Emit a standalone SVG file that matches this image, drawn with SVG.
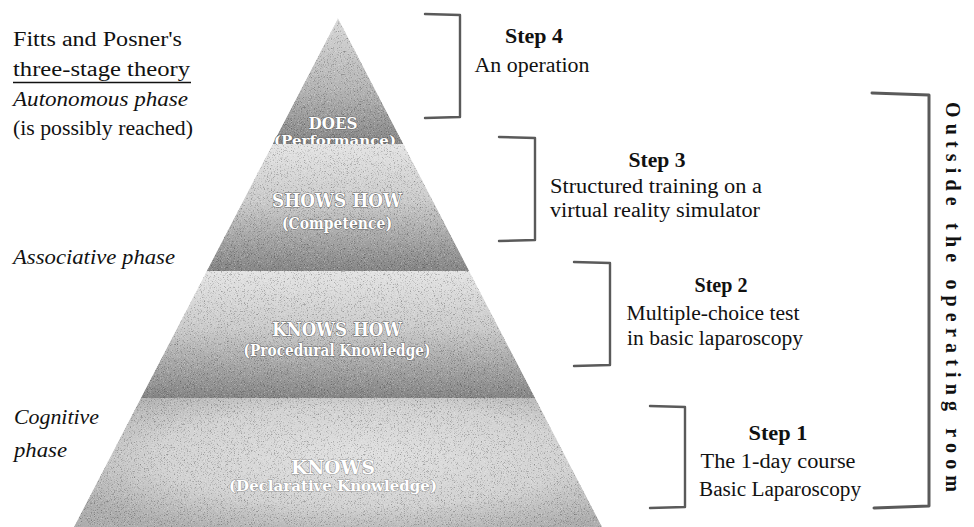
<svg xmlns="http://www.w3.org/2000/svg" width="974" height="527" viewBox="0 0 974 527">
<style>
  .t { font-family: "Liberation Serif", "DejaVu Serif", serif; font-size: 20px; fill: #111; }
  .it { font-style: italic; }
  .b { font-weight: bold; }
  .mid { text-anchor: middle; }
  .py { font-family: "DejaVu Serif", "Liberation Serif", serif; font-weight: bold; fill: #ffffff; stroke: #6a6a6a; stroke-width: 1.1; paint-order: stroke; text-anchor: middle; }
  .pyl { stroke: #9a9a9a; }
  .br { fill: none; stroke: #5a5a5a; stroke-width: 2.4; stroke-linejoin: round; stroke-linecap: round; }
  .band { filter: url(#grain); }
</style>
<defs>
  <linearGradient id="gBand" x1="0" y1="0" x2="0" y2="1">
    <stop offset="0" stop-color="#e4e4e4"/>
    <stop offset="0.45" stop-color="#cbcbcb"/>
    <stop offset="1" stop-color="#858585"/>
  </linearGradient>
  <linearGradient id="gTop" x1="0" y1="0" x2="0" y2="1">
    <stop offset="0" stop-color="#d8d8d8"/>
    <stop offset="0.55" stop-color="#b6b6b6"/>
    <stop offset="1" stop-color="#858585"/>
  </linearGradient>
  <radialGradient id="gBase" cx="0.55" cy="0.45" r="0.65">
    <stop offset="0" stop-color="#e0e0e0"/>
    <stop offset="0.6" stop-color="#d2d2d2"/>
    <stop offset="1" stop-color="#adadad"/>
  </radialGradient>
  <filter id="grain" x="0" y="0" width="100%" height="100%" color-interpolation-filters="sRGB">
    <feTurbulence type="fractalNoise" baseFrequency="1.3" numOctaves="1" seed="4" result="n"/>
    <feColorMatrix in="n" type="matrix" values="0 0 0 0 0  0 0 0 0 0  0 0 0 0 0  1.3 0 0 0 -0.72" result="dk"/>
    <feColorMatrix in="n" type="matrix" values="0 0 0 0 1  0 0 0 0 1  0 0 0 0 1  -1.3 0 0 0 0.58" result="lt"/>
    <feMerge result="m">
      <feMergeNode in="SourceGraphic"/>
      <feMergeNode in="dk"/>
      <feMergeNode in="lt"/>
    </feMerge>
    <feComposite in="m" in2="SourceGraphic" operator="in"/>
  </filter>
</defs>

<g id="phases">
  <text class="t" x="13" y="46" textLength="169" lengthAdjust="spacingAndGlyphs">Fitts and Posner's</text>
  <text class="t" x="13" y="76" textLength="177" lengthAdjust="spacingAndGlyphs">three-stage theory</text>
  <line x1="13" y1="82.5" x2="191" y2="82.5" stroke="#111" stroke-width="1.5"/>
  <text class="t it" x="13" y="106" textLength="175" lengthAdjust="spacingAndGlyphs">Autonomous phase</text>
  <text class="t" x="13" y="135" textLength="180" lengthAdjust="spacingAndGlyphs">(is possibly reached)</text>
  <text class="t it" x="13" y="264" textLength="162" lengthAdjust="spacingAndGlyphs">Associative phase</text>
  <text class="t it" x="14" y="424" textLength="85" lengthAdjust="spacingAndGlyphs">Cognitive</text>
  <text class="t it" x="14" y="457" textLength="53" lengthAdjust="spacingAndGlyphs">phase</text>
</g>

<g id="pyramid">
  <g id="does">
    <polygon class="band" points="338,18 403.4,144 272.6,144" fill="url(#gTop)"/>
    <text class="py" x="333" y="129" font-size="16" textLength="49" lengthAdjust="spacingAndGlyphs">DOES</text>
    <text class="py" x="335" y="145" font-size="12" textLength="122" lengthAdjust="spacingAndGlyphs">(Performance)</text>
  </g>
  <g id="shows-how">
    <polygon class="band" points="272.6,144 403.4,144 469.3,271 206.7,271" fill="url(#gBand)"/>
    <text class="py" x="337" y="207" font-size="19" textLength="130" lengthAdjust="spacingAndGlyphs">SHOWS HOW</text>
    <text class="py" x="337" y="229" font-size="16" textLength="110" lengthAdjust="spacingAndGlyphs">(Competence)</text>
  </g>
  <g id="knows-how">
    <polygon class="band" points="206.7,271 469.3,271 535.2,398 140.8,398" fill="url(#gBand)"/>
    <text class="py" x="337" y="336" font-size="19" textLength="130" lengthAdjust="spacingAndGlyphs">KNOWS HOW</text>
    <text class="py" x="337" y="356" font-size="16" textLength="187" lengthAdjust="spacingAndGlyphs">(Procedural Knowledge)</text>
  </g>
  <g id="knows">
    <polygon class="band" points="140.8,398 535.2,398 602.2,527 73.8,527" fill="url(#gBase)"/>
    <text class="py pyl" x="333" y="474" font-size="18" textLength="84" lengthAdjust="spacingAndGlyphs">KNOWS</text>
    <text class="py pyl" x="333" y="491" font-size="15" textLength="208" lengthAdjust="spacingAndGlyphs">(Declarative Knowledge)</text>
  </g>
</g>

<g id="connectors">
  <path class="br" d="M425,14 L460,15 L460,117 L425,118"/>
  <path class="br" d="M499,137 L535,138 L535,240 L499,241"/>
  <path class="br" d="M574,262 L610,263 L610,365 L574,366"/>
  <path class="br" d="M650,406 L685,407 L685,507 L650,508"/>
  <path class="br" d="M872,93 L929,95 L929,506 L874,508" style="stroke-width:3"/>
</g>

<g id="step4">
  <text class="t b mid" x="534" y="43" textLength="58" lengthAdjust="spacingAndGlyphs">Step 4</text>
  <text class="t mid" x="532" y="72" textLength="115" lengthAdjust="spacingAndGlyphs">An operation</text>
</g>
<g id="step3">
  <text class="t b mid" x="657" y="167" textLength="57" lengthAdjust="spacingAndGlyphs">Step 3</text>
  <text class="t mid" x="656" y="193" textLength="212" lengthAdjust="spacingAndGlyphs">Structured training on a</text>
  <text class="t mid" x="655" y="217" textLength="210" lengthAdjust="spacingAndGlyphs">virtual reality simulator</text>
</g>
<g id="step2">
  <text class="t b mid" x="721" y="292" textLength="53" lengthAdjust="spacingAndGlyphs">Step 2</text>
  <text class="t mid" x="713" y="320" textLength="173" lengthAdjust="spacingAndGlyphs">Multiple-choice test</text>
  <text class="t mid" x="715" y="345" textLength="176" lengthAdjust="spacingAndGlyphs">in basic laparoscopy</text>
</g>
<g id="step1">
  <text class="t b mid" x="778" y="440" textLength="59" lengthAdjust="spacingAndGlyphs">Step 1</text>
  <text class="t mid" x="778" y="468" textLength="155" lengthAdjust="spacingAndGlyphs">The 1-day course</text>
  <text class="t mid" x="780" y="496" textLength="162" lengthAdjust="spacingAndGlyphs">Basic Laparoscopy</text>
</g>
<g id="outside">
  <text class="t b mid" transform="translate(946,297) rotate(90)" font-size="24" textLength="390" lengthAdjust="spacing">Outside the operating room</text>
</g>
</svg>
